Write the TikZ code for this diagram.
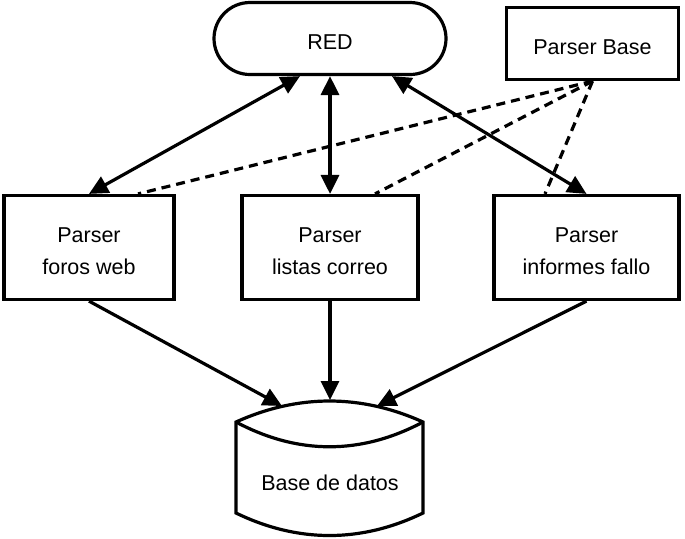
\documentclass[tikz,border=0pt]{standalone}
\usepackage{fontspec}
\setmainfont{Liberation Sans}
\usetikzlibrary{arrows.meta}
\newcommand{\etiq}[1]{\raisebox{-2.3pt}[\height][\depth]{\begin{tabular}{@{}c@{}}#1\end{tabular}}}
\begin{document}
\begin{tikzpicture}[x=0.5pt,y=-0.5pt,
	every node/.style={font=\fontsize{10.75}{16}\selectfont},
	box/.style={draw, line width=1.6pt, inner sep=0pt},
	link/.style={line width=1.6pt, {Triangle[length=9.5pt,width=9pt]}-{Triangle[length=9.5pt,width=9pt]}},
	feed/.style={line width=1.6pt, -{Triangle[length=9.5pt,width=9pt]}},
	herencia/.style={line width=1.6pt, dash pattern=on 4.5pt off 3pt}]
	\useasboundingbox (0,0) rectangle (685,538);
	% nodos
	\node[box, rounded corners=18pt, minimum width=116pt, minimum height=36pt] (red) at (330,38.5) {\etiq{RED}};
	\node[box, minimum width=86pt, minimum height=36pt] (pbase) at (592.5,43.5) {\etiq{Parser Base}};
	\node[box, minimum width=85pt, minimum height=52pt] (foros) at (89,247.5) {\etiq{Parser\\foros web}};
	\node[box, minimum width=88pt, minimum height=52pt] (listas) at (330,247.5) {\etiq{Parser\\listas correo}};
	\node[box, minimum width=92.5pt, minimum height=52pt] (informes) at (586.5,247.5) {\etiq{Parser\\informes fallo}};
	% base de datos
	\draw[line width=1.6pt] (236,422) .. controls (298,394) and (361,394) .. (423,422)
		-- (423,513) .. controls (361,543) and (298,543) .. (236,513) -- cycle;
	\draw[line width=1.6pt] (236,422) .. controls (298,455) and (361,455) .. (423,422);
	\node (db) at (330,483) {Base de datos};
	\coordinate (dbl) at (282,406);
	\coordinate (dbm) at (330,400);
	\coordinate (dbr) at (377,406);
	% conexiones
	\draw[link] ([xshift=-15pt]red.south) -- (foros.north);
	\draw[link] (red) -- (listas);
	\draw[link] ([xshift=31pt]red.south) -- (informes.north);
	\draw[feed] (foros.south) -- (dbl);
	\draw[feed] (listas) -- (dbm);
	\draw[feed] (informes.south) -- (dbr);
	\draw[herencia] (pbase.south) -- ([xshift=24.5pt]foros.north);
	\draw[herencia] (pbase.south) -- ([xshift=22.5pt]listas.north);
	\draw[herencia] (pbase.south) -- ([xshift=-20.75pt]informes.north);
\end{tikzpicture}
\end{document}
